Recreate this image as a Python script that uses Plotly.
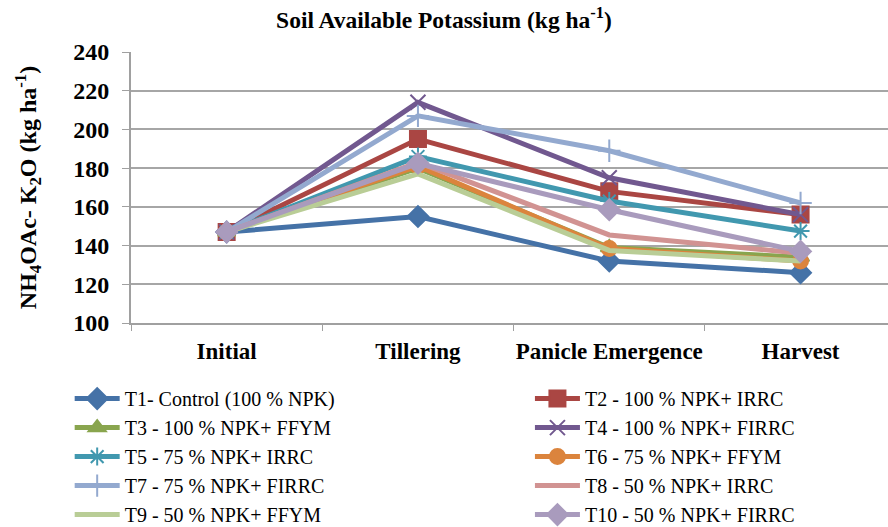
import plotly.graph_objects as go

stages = ["Initial", "Tillering", "Panicle Emergence", "Harvest"]
names = [
    "T1- Control (100 % NPK)",
    "T2 - 100 % NPK+ IRRC",
    "T3 - 100 % NPK+ FFYM",
    "T4 - 100 % NPK+ FIRRC",
    "T5 - 75 % NPK+ IRRC",
    "T6 - 75 % NPK+ FFYM",
    "T7 - 75 % NPK+ FIRRC",
    "T8 - 50 % NPK+ IRRC",
    "T9 - 50 % NPK+ FFYM",
    "T10 - 50 % NPK+ FIRRC",
]
t1 = [147, 155, 132, 126]
t2 = [147, 195, 168, 156]
t3 = [147, 180, 139, 134]
t4 = [147, 214, 175, 156]
t5 = [147, 186, 163, 147.5]
t6 = [147, 181, 138.5, 132]
t7 = [147, 207, 189, 162]
t8 = [147, 183, 145.5, 136]
t9 = [147, 177, 137.5, 132]
t10 = [147, 182.5, 158.5, 137]
series = [t1, t2, t3, t4, t5, t6, t7, t8, t9, t10]

colors = ["#4572A7", "#AA4643", "#89A54E", "#71588F", "#4198AF",
          "#DB843D", "#93A9CF", "#D19392", "#B9CD96", "#A99BBD"]
symbols = ["diamond", "square", "triangle-up", "x-thin-open", "asterisk-open",
           "circle", "cross-thin-open", None, None, "diamond"]
sizes = [16, 16, 15, 15, 15, 15, 16, 0, 0, 16]

fig = go.Figure()
for i, (name, vals, col, sym, sz) in enumerate(zip(names, series, colors, symbols, sizes)):
    lg = "legend" if i % 2 == 0 else "legend2"
    if sym is None:
        fig.add_trace(go.Scatter(x=stages, y=vals, name=name, mode="lines",
                                 line=dict(color=col, width=5), legend=lg))
    else:
        fig.add_trace(go.Scatter(x=stages, y=vals, name=name, mode="lines+markers",
                                 line=dict(color=col, width=5), legend=lg,
                                 marker=dict(symbol=sym, size=sz, color=col,
                                             line=dict(color=col, width=2))))

serif = "Liberation Serif, Times New Roman, serif"
leg_common = dict(orientation="v", yanchor="top", xanchor="left",
                  font=dict(size=20, family=serif, color="black"),
                  tracegroupgap=0, itemwidth=45, bgcolor="rgba(0,0,0,0)",
                  borderwidth=0)
fig.update_layout(
    width=888, height=527,
    margin=dict(l=131, r=0, t=52, b=204, autoexpand=False),
    paper_bgcolor="white", plot_bgcolor="white",
    font=dict(family=serif, color="black"),
    title=dict(text="<b>Soil Available Potassium (kg ha<sup>-1</sup>)</b>",
               x=0.5, xanchor="center", y=0.962, yanchor="middle",
               font=dict(size=23.5, family=serif, color="black")),
    xaxis=dict(type="category", range=[-0.5, 3.457], tickson="boundaries",
               ticks="outside", ticklen=6, tickcolor="#A0A0A0",
               showline=True, linecolor="#A0A0A0", linewidth=2,
               showgrid=False, ticklabelstandoff=6, tickangle=0,
               tickfont=dict(size=23, family=serif, color="black"),
               tickprefix="<b>", ticksuffix="</b>"),
    yaxis=dict(range=[100, 240], dtick=20, ticks="outside", ticklen=7,
               tickcolor="#A0A0A0", showline=True, linecolor="#A0A0A0", linewidth=2,
               showgrid=True, gridcolor="#A6A6A6", gridwidth=2,
               zeroline=False, ticklabelstandoff=8,
               tickfont=dict(size=24, family=serif, color="black"),
               tickprefix="<b>", ticksuffix="</b>",
               title=dict(text="<b>NH<sub>4</sub>OAc- K<sub>2</sub>O (kg ha<sup>-1</sup>)</b>",
                          font=dict(size=24, family=serif, color="black"),
                          standoff=30)),
    legend=dict(x=-0.081, y=-0.207, **leg_common),
    legend2=dict(x=0.527, y=-0.207, **leg_common),
    showlegend=True,
)

fig.write_html("out.html")
